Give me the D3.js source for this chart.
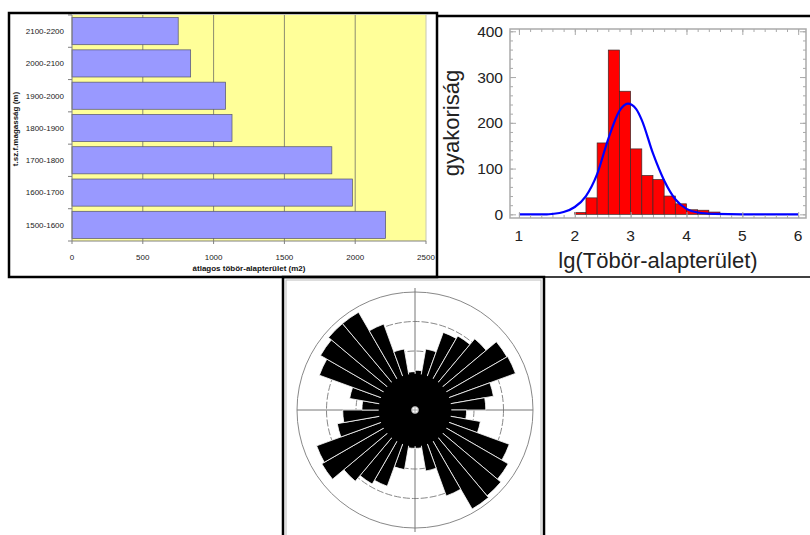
<!DOCTYPE html>
<html>
<head>
<meta charset="utf-8">
<script src="https://cdn.jsdelivr.net/npm/d3@7"></script>
<style>
  body { margin: 0; background: #fff; }
  text { font-family: 'Liberation Sans', Arial, sans-serif; }
</style>
</head>
<body>
<script>
// bar chart: average sinkhole base area per altitude band
const altBands = ['1500-1600', '1600-1700', '1700-1800', '1800-1900', '1900-2000', '2000-2100', '2100-2200'];
const altArea = [2215, 1980, 1835, 1130, 1085, 838, 750];
const areaTicks = [0, 500, 1000, 1500, 2000, 2500];

// histogram of lg(area)
const histStart = [2.0, 2.2, 2.4, 2.6, 2.8, 3.0, 3.2, 3.4, 3.6, 3.8, 4.0, 4.2, 4.4];
const histCount = [4, 36, 156, 359, 269, 143, 85, 76, 40, 23, 10, 9, 5];
const binWidth = 0.2;
const fitX = [1, 1.5, 1.6, 1.8, 2.0, 2.2, 2.4, 2.6, 2.8, 2.95, 3.1, 3.2, 3.4, 3.6, 3.8, 4.0, 4.2, 4.5, 5, 6];
const fitY = [0, 0, 1, 5, 16, 40, 88, 165, 226, 242, 230, 206, 133, 74, 33, 12, 4, 1, 0, 0];
const histXTicks = [1, 2, 3, 4, 5, 6];
const histYTicks = [0, 100, 200, 300, 400];

// rose diagram, 10 degree bins clockwise from north
const roseFreq = [2.7, 4.2, 5.6, 5.8, 6.3, 7.2, 7.25, 5.4, 4.8,
                  3.5, 4.5, 6.8, 7.3, 7.6, 7.75, 6.2, 4.2, 2.6,
                  2.6, 4.1, 5.5, 5.8, 6.3, 7.3, 7.1, 5.35, 4.9,
                  3.6, 4.5, 6.9, 7.4, 7.65, 7.65, 6.2, 4.2, 2.6];
const roseRings = [2, 4, 6, 8];

const svg = d3.select('body').append('svg')
  .attr('width', 810)
  .attr('height', 535);

/////////////////////////
// chart 1

const x1 = d3.scaleLinear().domain([0, 2500]).range([72, 426]);
const y1 = d3.scaleBand().domain(altBands).range([241, 15]).paddingInner(0.16).paddingOuter(0.08);
const g1 = svg.append('g');

g1.append('rect')
  .attr('x', 72).attr('y', 15)
  .attr('width', 354).attr('height', 226)
  .attr('fill', '#ffff99');

g1.selectAll('line.grid').data(areaTicks.slice(1)).join('line')
  .attr('class', 'grid')
  .attr('x1', (d) => x1(d)).attr('x2', (d) => x1(d))
  .attr('y1', 15).attr('y2', 241)
  .attr('stroke', (d) => d === 2500 ? '#c8c8b0' : '#8c8c70')
  .attr('stroke-width', 1);

g1.selectAll('rect.bar').data(altArea).join('rect')
  .attr('class', 'bar')
  .attr('x', x1(0))
  .attr('y', (d, i) => y1(altBands[i]))
  .attr('width', (d) => x1(d) - x1(0))
  .attr('height', y1.bandwidth())
  .attr('fill', '#9999ff')
  .attr('stroke', '#55556a')
  .attr('stroke-width', 0.7);

// axis lines
g1.append('line').attr('x1', 72).attr('x2', 72).attr('y1', 15).attr('y2', 241).attr('stroke', '#808080');
g1.append('line').attr('x1', 72).attr('x2', 426).attr('y1', 241).attr('y2', 241).attr('stroke', '#808080');

// category boundary ticks
const step1 = y1.step();
const bounds = altBands.map((d) => y1(d) + y1.bandwidth() / 2 + step1 / 2);
bounds.push(y1(altBands[6]) + y1.bandwidth() / 2 - step1 / 2);
g1.selectAll('line.ytick').data(bounds).join('line')
  .attr('class', 'ytick')
  .attr('x1', 68).attr('x2', 72)
  .attr('y1', (d) => d).attr('y2', (d) => d)
  .attr('stroke', '#808080');

g1.selectAll('line.xtick').data(areaTicks).join('line')
  .attr('class', 'xtick')
  .attr('x1', (d) => x1(d)).attr('x2', (d) => x1(d))
  .attr('y1', 241).attr('y2', 244)
  .attr('stroke', '#808080');

g1.selectAll('text.ylab').data(altBands).join('text')
  .attr('class', 'ylab')
  .attr('x', 64)
  .attr('y', (d) => y1(d) + y1.bandwidth() / 2)
  .attr('dy', '0.35em')
  .attr('text-anchor', 'end')
  .attr('font-size', 8)
  .attr('fill', '#222')
  .text((d) => d);

g1.selectAll('text.xlab').data(areaTicks).join('text')
  .attr('class', 'xlab')
  .attr('x', (d) => x1(d))
  .attr('y', 260)
  .attr('text-anchor', 'middle')
  .attr('font-size', 8)
  .attr('fill', '#222')
  .text((d) => d);

g1.append('text')
  .attr('x', 249).attr('y', 271)
  .attr('text-anchor', 'middle')
  .attr('font-size', 8).attr('font-weight', 'bold')
  .attr('fill', '#111')
  .text('átlagos töbör-alapterület (m2)');

g1.append('text')
  .attr('transform', 'translate(18,129) rotate(-90)')
  .attr('text-anchor', 'middle')
  .attr('font-size', 8).attr('font-weight', 'bold')
  .attr('fill', '#111')
  .text('t.sz.f.magasság (m)');

/////////////////////////
// chart 2

const x2 = d3.scaleLinear().domain([0.84, 6.14]).range([510, 806]);
const y2 = d3.scaleLinear().domain([-8, 405]).range([218, 29]);
const g2 = svg.append('g');

g2.selectAll('rect.hbar').data(histCount).join('rect')
  .attr('class', 'hbar')
  .attr('x', (d, i) => x2(histStart[i]))
  .attr('y', (d) => y2(d))
  .attr('width', (d, i) => x2(histStart[i] + binWidth) - x2(histStart[i]))
  .attr('height', (d) => y2(0) - y2(d))
  .attr('fill', '#ff0000')
  .attr('stroke', '#3a2a2a')
  .attr('stroke-width', 0.7);

const fitLine = d3.line()
  .x((d, i) => x2(fitX[i]))
  .y((d) => y2(d))
  .curve(d3.curveMonotoneX);

g2.append('path')
  .attr('d', fitLine(fitY))
  .attr('fill', 'none')
  .attr('stroke', '#0000ff')
  .attr('stroke-width', 2.2);

// frame with inward ticks
g2.append('rect')
  .attr('x', 510).attr('y', 29)
  .attr('width', 296).attr('height', 189)
  .attr('fill', 'none')
  .attr('stroke', '#aaaaaa')
  .attr('stroke-width', 1.5);

const xMinor = d3.range(1, 6.01, 0.2);
const yMinor = d3.range(0, 401, 20);
const tickAxes = [
  [d3.axisBottom(x2).tickValues(xMinor).tickSize(-3), 'translate(0,218)'],
  [d3.axisTop(x2).tickValues(xMinor).tickSize(-3), 'translate(0,29)'],
  [d3.axisBottom(x2).tickValues(histXTicks).tickSize(-6), 'translate(0,218)'],
  [d3.axisTop(x2).tickValues(histXTicks).tickSize(-6), 'translate(0,29)'],
  [d3.axisLeft(y2).tickValues(yMinor).tickSize(-3), 'translate(510,0)'],
  [d3.axisRight(y2).tickValues(yMinor).tickSize(-3), 'translate(806,0)'],
  [d3.axisLeft(y2).tickValues(histYTicks).tickSize(-6), 'translate(510,0)'],
  [d3.axisRight(y2).tickValues(histYTicks).tickSize(-6), 'translate(806,0)']
];
tickAxes.forEach(([ax, tr]) => {
  const ga = g2.append('g').attr('transform', tr).call(ax.tickFormat(''));
  ga.select('.domain').remove();
  ga.selectAll('line').attr('stroke', '#aaaaaa');
});

g2.selectAll('text.hx').data(histXTicks).join('text')
  .attr('class', 'hx')
  .attr('x', (d) => x2(d))
  .attr('y', 241)
  .attr('text-anchor', 'middle')
  .attr('font-size', 15.5)
  .attr('fill', '#222')
  .text((d) => d);

g2.selectAll('text.hy').data(histYTicks).join('text')
  .attr('class', 'hy')
  .attr('x', 503)
  .attr('y', (d) => y2(d))
  .attr('dy', '0.36em')
  .attr('text-anchor', 'end')
  .attr('font-size', 15.5)
  .attr('fill', '#222')
  .text((d) => d);

g2.append('text')
  .attr('x', 658).attr('y', 268)
  .attr('text-anchor', 'middle')
  .attr('font-size', 22)
  .attr('fill', '#222')
  .text('lg(Töbör-alapterület)');

g2.append('text')
  .attr('transform', 'translate(459,123) rotate(-90)')
  .attr('text-anchor', 'middle')
  .attr('font-size', 22)
  .attr('fill', '#222')
  .text('gyakoriság');

/////////////////////////
// chart 3

const g3 = svg.append('g').attr('transform', 'translate(415,410)');
const r3 = d3.scaleLinear().domain([0, 8]).range([0, 118]);

g3.selectAll('circle.ring').data(roseRings).join('circle')
  .attr('class', 'ring')
  .attr('r', (d) => r3(d))
  .attr('fill', 'none')
  .attr('stroke', '#888')
  .attr('stroke-width', 1)
  .attr('stroke-dasharray', (d) => d === 8 ? null : '7,2');

g3.append('line').attr('x1', -r3(8)).attr('x2', r3(8)).attr('y1', 0).attr('y2', 0).attr('stroke', '#777');
g3.append('line').attr('x1', 0).attr('x2', 0).attr('y1', -r3(8) - 4).attr('y2', r3(8) + 4).attr('stroke', '#777');

const petal = d3.arc().innerRadius(0);
const rad = Math.PI / 180;
g3.selectAll('path.petal').data(roseFreq).join('path')
  .attr('class', 'petal')
  .attr('d', (d, i) => petal({outerRadius: r3(d), startAngle: i * 10 * rad, endAngle: (i + 1) * 10 * rad}))
  .attr('fill', '#000')
  .attr('stroke', '#fff')
  .attr('stroke-width', 0.8);

// solid core where the separators merge
g3.append('circle').attr('r', r3(d3.min(roseFreq)) - 2).attr('fill', '#000');

// centre marker
g3.append('circle').attr('r', 3.5).attr('fill', '#fff').attr('stroke', '#999').attr('stroke-width', 0.8);
g3.append('line').attr('x1', -3.5).attr('x2', 3.5).attr('stroke', '#999').attr('stroke-width', 0.8);
g3.append('line').attr('y1', -3.5).attr('y2', 3.5).attr('stroke', '#999').attr('stroke-width', 0.8);

/////////////////////////
// frames

svg.append('rect')
  .attr('x', 286).attr('y', 280).attr('width', 255).attr('height', 260)
  .attr('fill', 'none').attr('stroke', '#bbb').attr('stroke-width', 1);
svg.append('rect')
  .attr('x', 283).attr('y', 277).attr('width', 261).attr('height', 270)
  .attr('fill', 'none').attr('stroke', '#000').attr('stroke-width', 2.5);
svg.append('rect')
  .attr('x', 9).attr('y', 13).attr('width', 428).attr('height', 264)
  .attr('fill', 'none').attr('stroke', '#000').attr('stroke-width', 2.5);
svg.append('line')
  .attr('x1', 437).attr('x2', 810).attr('y1', 16).attr('y2', 16)
  .attr('stroke', '#000').attr('stroke-width', 2.5);
svg.append('line')
  .attr('x1', 437).attr('x2', 810).attr('y1', 277).attr('y2', 277)
  .attr('stroke', '#000').attr('stroke-width', 1.5);
</script>
</body>
</html>
